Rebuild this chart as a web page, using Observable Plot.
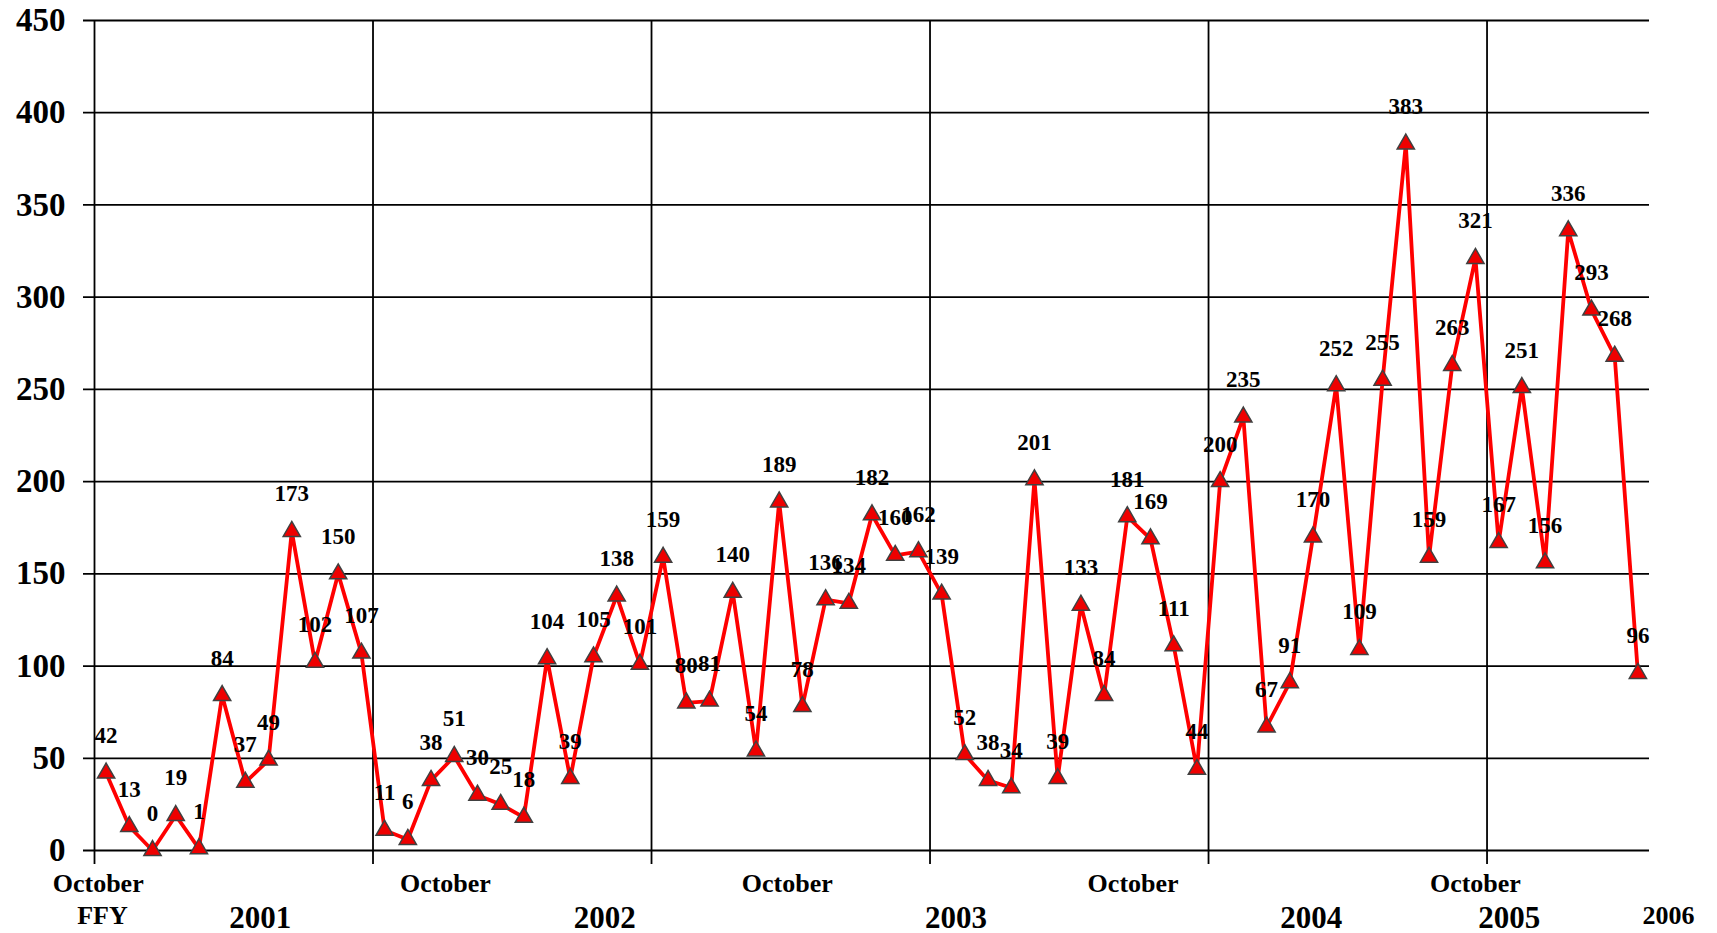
<!DOCTYPE html>
<html>
<head>
<meta charset="utf-8">
<script src="https://cdn.jsdelivr.net/npm/d3@7"></script>
<script src="https://cdn.jsdelivr.net/npm/@observablehq/plot@0.6"></script>
<style>
  html, body { margin: 0; padding: 0; background: #fff; }
  #chart svg { display: block; }
  #chart svg, #chart svg text {
    font-family: "Liberation Serif", "Times New Roman", serif !important;
    font-weight: bold;
  }
</style>
</head>
<body>
<div id="chart"></div>
<script>
// Monthly counts, October FFY2001 through April 2006
const values = [
  42, 13, 0, 19, 1, 84, 37, 49, 173, 102, 150, 107,
  11, 6, 38, 51, 30, 25, 18, 104, 39, 105, 138, 101,
  159, 80, 81, 140, 54, 189, 78, 136, 134, 182, 160, 162,
  139, 52, 38, 34, 201, 39, 133, 84, 181, 169, 111, 44,
  200, 235, 67, 91, 170, 252, 109, 255, 383, 159, 263, 321,
  167, 251, 156, 336, 293, 268, 96
];
const yTicks = [0, 50, 100, 150, 200, 250, 300, 350, 400, 450];
const yearBoundaries = [0, 12, 24, 36, 48, 60];
// bottom labels (positions in month units along the x axis)
const monthLabels = ["October", "October", "October", "October", "October"];
const monthLabelPos = [0.16, 15.12, 29.85, 44.75, 59.5];
const ffyLabel = ["FFY"];
const ffyLabelPos = [0.34];
const yearLabels = ["2001", "2002", "2003", "2004", "2005"];
const yearLabelPos = [7.14, 21.98, 37.12, 52.43, 60.96];
const lastYearLabel = ["2006"];
const lastYearLabelPos = [67.82];

const nMonths = values.length;
const points = values.map((v, i) => ({x: i + 0.5, y: v}));
const font = "Liberation Serif";

const chart = Plot.plot({
  width: 1717,
  height: 933,
  marginLeft: 94,
  marginRight: 68,
  marginTop: 20,
  marginBottom: 83,
  style: {background: "#fff", color: "#000"},
  x: {domain: [0, nMonths], axis: null},
  y: {domain: [0, 450], axis: null},
  marks: [
    Plot.ruleY(yTicks, {stroke: "#000", strokeWidth: 1.8, insetLeft: -11}),
    Plot.ruleX(yearBoundaries, {y1: 450, y2: 0, stroke: "#000", strokeWidth: 1.8, insetBottom: -14}),
    Plot.axisY(yTicks, {tickSize: 0, tickPadding: 29, fontSize: 33, fontWeight: "bold", fontFamily: font, label: null}),
    Plot.line(points, {x: "x", y: "y", stroke: "#ff0000", strokeWidth: 3.8, curve: "linear"}),
    Plot.dot(points, {x: "x", y: "y", symbol: "triangle", r: 6.4, fill: "#ee0000", stroke: "#404040", strokeWidth: 1.5}),
    Plot.text(points, {x: "x", y: "y", text: d => String(d.y), dy: -30, lineAnchor: "bottom", textAnchor: "middle", fontSize: 23, fontWeight: "bold", fontFamily: font, fill: "#000"}),
    Plot.text(monthLabels, {x: (d, i) => monthLabelPos[i], y: () => 0, text: d => d, dy: 41.5, lineAnchor: "bottom", fontSize: 26, fontWeight: "bold", fontFamily: font}),
    Plot.text(ffyLabel, {x: (d, i) => ffyLabelPos[i], y: () => 0, text: d => d, dy: 73, lineAnchor: "bottom", fontSize: 26, fontWeight: "bold", fontFamily: font}),
    Plot.text(yearLabels, {x: (d, i) => yearLabelPos[i], y: () => 0, text: d => d, dy: 77, lineAnchor: "bottom", fontSize: 31, fontWeight: "bold", fontFamily: font}),
    Plot.text(lastYearLabel, {x: (d, i) => lastYearLabelPos[i], y: () => 0, text: d => d, dy: 73, lineAnchor: "bottom", fontSize: 26, fontWeight: "bold", fontFamily: font})
  ]
});
document.getElementById("chart").appendChild(chart);
</script>
</body>
</html>
